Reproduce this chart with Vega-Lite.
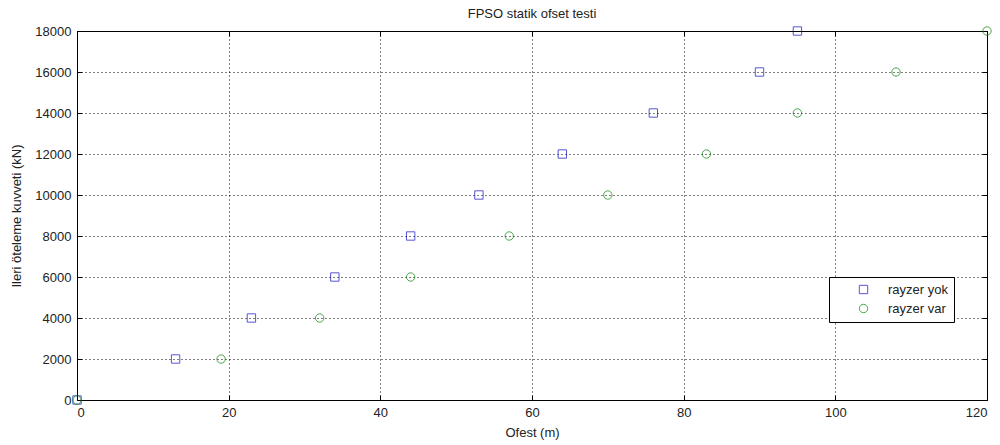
{
  "$schema": "https://vega.github.io/schema/vega-lite/v6.json",
  "autosize": "none",
  "width": 910,
  "height": 369,
  "padding": {"left": 77, "top": 31, "right": 13, "bottom": 45},
  "background": "white",
  "config": {
    "font": "Liberation Sans",
    "view": {"stroke": "#000", "strokeWidth": 1},
    "axis": {
      "labelFont": "Liberation Sans",
      "labelFontSize": 13,
      "labelColor": "#222",
      "titleFont": "Liberation Sans",
      "titleFontSize": 13,
      "titleFontWeight": "normal",
      "titleColor": "#222",
      "domain": false,
      "tickColor": "#000",
      "tickSize": -5,
      "gridColor": "#000",
      "gridDash": [1, 3],
      "gridOpacity": 1,
      "gridWidth": 1
    },
    "legend": {
      "labelFont": "Liberation Sans",
      "labelFontSize": 13,
      "labelColor": "#222"
    }
  },
  "title": {"text": "FPSO statik ofset testi", "font": "Liberation Sans", "fontSize": 13, "fontWeight": "normal", "color": "#222", "offset": 4},
  "data": {
    "values": [
      {"ofset": 0, "kuvvet": 0, "seri": "rayzer yok"},
      {"ofset": 13, "kuvvet": 2000, "seri": "rayzer yok"},
      {"ofset": 23, "kuvvet": 4000, "seri": "rayzer yok"},
      {"ofset": 34, "kuvvet": 6000, "seri": "rayzer yok"},
      {"ofset": 44, "kuvvet": 8000, "seri": "rayzer yok"},
      {"ofset": 53, "kuvvet": 10000, "seri": "rayzer yok"},
      {"ofset": 64, "kuvvet": 12000, "seri": "rayzer yok"},
      {"ofset": 76, "kuvvet": 14000, "seri": "rayzer yok"},
      {"ofset": 90, "kuvvet": 16000, "seri": "rayzer yok"},
      {"ofset": 95, "kuvvet": 18000, "seri": "rayzer yok"},
      {"ofset": 0, "kuvvet": 0, "seri": "rayzer var"},
      {"ofset": 19, "kuvvet": 2000, "seri": "rayzer var"},
      {"ofset": 32, "kuvvet": 4000, "seri": "rayzer var"},
      {"ofset": 44, "kuvvet": 6000, "seri": "rayzer var"},
      {"ofset": 57, "kuvvet": 8000, "seri": "rayzer var"},
      {"ofset": 70, "kuvvet": 10000, "seri": "rayzer var"},
      {"ofset": 83, "kuvvet": 12000, "seri": "rayzer var"},
      {"ofset": 95, "kuvvet": 14000, "seri": "rayzer var"},
      {"ofset": 108, "kuvvet": 16000, "seri": "rayzer var"},
      {"ofset": 120, "kuvvet": 18000, "seri": "rayzer var"}
    ]
  },
  "layer": [
    {
      "mark": {"type": "point", "filled": false, "strokeWidth": 1, "size": 70},
      "encoding": {
        "x": {"field": "ofset", "type": "quantitative", "scale": {"domain": [0, 120], "nice": false},
          "axis": {"orient": "bottom", "title": "Ofest (m)", "format": "d", "values": [0, 20, 40, 60, 80, 100, 120], "labelPadding": 11, "titlePadding": 7, "grid": true}},
        "y": {"field": "kuvvet", "type": "quantitative", "scale": {"domain": [0, 18000], "nice": false},
          "axis": {"orient": "left", "title": "Ileri öteleme kuvveti (kN)", "format": "d", "values": [0, 2000, 4000, 6000, 8000, 10000, 12000, 14000, 16000, 18000], "labelPadding": 11, "titlePadding": 11, "grid": true}},
        "shape": {"field": "seri", "type": "nominal",
          "scale": {"domain": ["rayzer yok", "rayzer var"], "range": ["square", "circle"]},
          "legend": {"title": null, "orient": "none", "legendX": 752, "legendY": 246, "fillColor": "white", "strokeColor": "#000", "padding": 6, "symbolSize": 70, "symbolStrokeWidth": 1, "symbolOffset": 22, "labelOffset": 18, "rowPadding": 5}},
        "color": {"field": "seri", "type": "nominal",
          "scale": {"domain": ["rayzer yok", "rayzer var"], "range": ["#1010c0", "#008000"]},
          "legend": {"title": null, "orient": "none", "legendX": 752, "legendY": 246, "fillColor": "white", "strokeColor": "#000", "padding": 6, "symbolSize": 70, "symbolStrokeWidth": 1, "symbolOffset": 22, "labelOffset": 18, "rowPadding": 5}}
      }
    },
    {
      "mark": {"type": "point", "opacity": 0},
      "encoding": {
        "x": {"field": "ofset", "type": "quantitative",
          "axis": {"orient": "top", "labels": false, "title": null, "values": [0, 20, 40, 60, 80, 100, 120], "grid": false}},
        "y": {"field": "kuvvet", "type": "quantitative",
          "axis": {"orient": "right", "labels": false, "title": null, "values": [0, 2000, 4000, 6000, 8000, 10000, 12000, 14000, 16000, 18000], "grid": false}}
      }
    }
  ],
  "resolve": {"axis": {"x": "independent", "y": "independent"}}
}
